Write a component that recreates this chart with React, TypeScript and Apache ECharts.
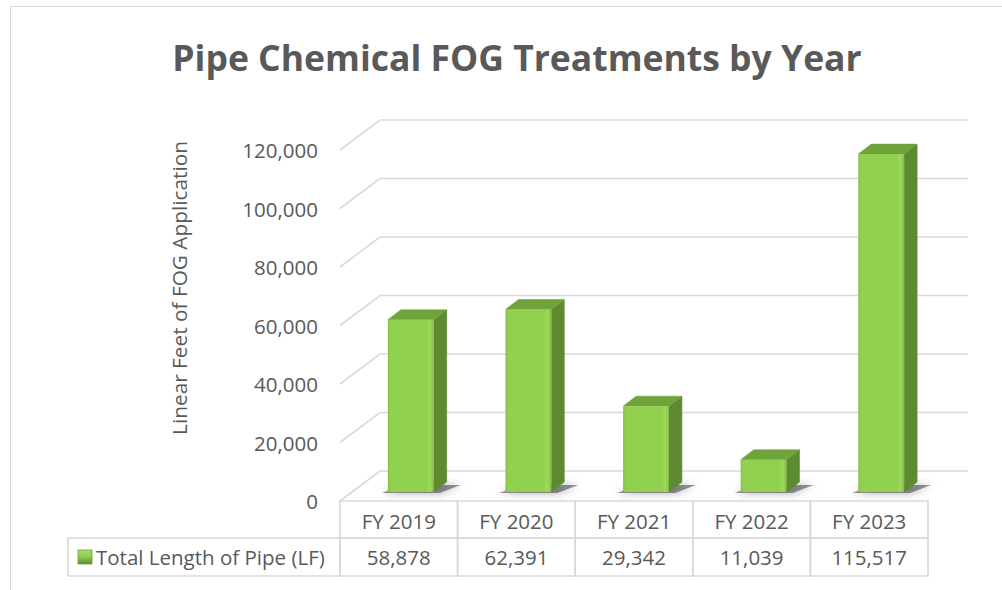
import React, { useEffect, useRef } from "react";
import * as echarts from "echarts";

const chartTitle = "Pipe Chemical FOG Treatments by Year";
const yAxisTitle = "Linear Feet of FOG Application";
const seriesName = "Total Length of Pipe (LF)";
const categories = ["FY 2019", "FY 2020", "FY 2021", "FY 2022", "FY 2023"];
const values = [58878, 62391, 29342, 11039, 115517];
const yTicks = [0, 20000, 40000, 60000, 80000, 100000, 120000];

const FONT = "'Open Sans', 'Noto Sans', sans-serif";
const TEXT = "#595959";
const GRID = "#D9D9D9";
const DEPTH_X = 40;
const DEPTH_Y = 30;
const FS = 20.5;

const fmt = (v: number) => v.toLocaleString("en-US");

export default function App() {
  const ref = useRef<HTMLDivElement>(null);

  useEffect(() => {
    if (!ref.current) return;
    const chart = echarts.init(ref.current, undefined, { renderer: "svg" });

    const gridLineItem = (params: any, api: any) => {
      const cs = params.coordSys;
      const y = api.coord([0, api.value(1)])[1];
      const x0 = cs.x;
      const x1 = cs.x + cs.width;
      return {
        type: "polyline",
        shape: {
          points: [
            [x0, y],
            [x0 + DEPTH_X, y - DEPTH_Y],
            [x1 + DEPTH_X, y - DEPTH_Y],
          ],
        },
        style: { stroke: GRID, lineWidth: 1.6, fill: "none" },
        silent: true,
      };
    };

    const barItem = (params: any, api: any) => {
      const idx = api.value(0);
      const val = api.value(1);
      const top = api.coord([idx, val]);
      const base = api.coord([idx, 0]);
      const band = api.size([1, 0])[0];
      const w = band * 0.39;
      const ox = DEPTH_X * 0.3;
      const oy = DEPTH_Y * 0.3;
      const dx = 13;
      const dy = 10;
      const cx = top[0] + ox;
      const L = cx - w / 2;
      const R = cx + w / 2;
      const B = base[1] - oy;
      const T = top[1] - oy;
      return {
        type: "group",
        children: [
          {
            type: "polygon",
            shape: {
              points: [
                [L - 6, B + 1],
                [R + 6, B + 1],
                [R + dx + 14, B - dy + 3],
                [L + dx + 2, B - dy + 3],
              ],
            },
            style: {
              fill: "rgba(60,60,60,0.55)",
              shadowBlur: 8,
              shadowColor: "rgba(0,0,0,0.6)",
            },
            silent: true,
          },
          {
            type: "polygon",
            shape: {
              points: [
                [R, B],
                [R + dx, B - dy],
                [R + dx, T - dy],
                [R, T],
              ],
            },
            style: { fill: "#5E8B31", stroke: "#5A8630", lineWidth: 0.5 },
          },
          {
            type: "polygon",
            shape: {
              points: [
                [L, T],
                [L + dx, T - dy],
                [R + dx, T - dy],
                [R, T],
              ],
            },
            style: { fill: "#6FA43B", stroke: "#6A9E38", lineWidth: 0.5 },
          },
          {
            type: "rect",
            shape: { x: L, y: T, width: w, height: B - T, r: 1.5 },
            style: {
              fill: new echarts.graphic.LinearGradient(0, 0, 1, 0, [
                { offset: 0, color: "#86C245" },
                { offset: 0.06, color: "#92D050" },
                { offset: 0.84, color: "#92D050" },
                { offset: 0.92, color: "#9CDA58" },
                { offset: 1, color: "#84BE45" },
              ]),
            },
          },
        ],
      };
    };

    const tableItem = (params: any, api: any) => {
      const cs = params.coordSys;
      const idx = api.value(0);
      const base = api.coord([idx, 0]);
      const band = api.size([1, 0])[0];
      const x0 = base[0] - band / 2;
      const y0 = base[1];
      const rowH1 = 37;
      const rowH2 = 38;
      const children: any[] = [
        {
          type: "rect",
          shape: { x: x0, y: y0, width: band, height: rowH1 },
          style: { fill: "none", stroke: GRID, lineWidth: 1.6 },
        },
        {
          type: "rect",
          shape: { x: x0, y: y0 + rowH1, width: band, height: rowH2 },
          style: { fill: "none", stroke: GRID, lineWidth: 1.6 },
        },
        {
          type: "text",
          x: base[0],
          y: y0 + rowH1 / 2 + 1,
          style: {
            text: categories[idx],
            textAlign: "center",
            textVerticalAlign: "middle",
            fontSize: FS,
            fontFamily: FONT,
            fill: TEXT,
          },
        },
        {
          type: "text",
          x: base[0],
          y: y0 + rowH1 + rowH2 / 2,
          style: {
            text: fmt(api.value(1)),
            textAlign: "center",
            textVerticalAlign: "middle",
            fontSize: FS,
            fontFamily: FONT,
            fill: TEXT,
          },
        },
      ];
      if (idx === 0) {
        const lx = cs.x - 272;
        children.push(
          {
            type: "rect",
            shape: { x: lx, y: y0 + rowH1, width: 272, height: rowH2 },
            style: { fill: "none", stroke: GRID, lineWidth: 1.6 },
          },
          {
            type: "rect",
            shape: { x: lx + 10, y: y0 + rowH1 + 12, width: 14, height: 14 },
            style: {
              fill: new echarts.graphic.LinearGradient(0, 0, 0, 1, [
                { offset: 0, color: "#A8DC6C" },
                { offset: 0.5, color: "#8FCB4C" },
                { offset: 1, color: "#5E8B31" },
              ]),
              stroke: "#6A9E38",
              lineWidth: 0.8,
            },
          },
          {
            type: "text",
            x: lx + 28,
            y: y0 + rowH1 + rowH2 / 2,
            style: {
              text: seriesName,
              textAlign: "left",
              textVerticalAlign: "middle",
              fontSize: FS,
              fontFamily: FONT,
              fill: TEXT,
            },
          }
        );
      }
      return { type: "group", children };
    };

    chart.setOption({
      animation: false,
      backgroundColor: "#ffffff",
      title: {
        text: chartTitle,
        left: 512,
        top: 52,
        textAlign: "center",
        textVerticalAlign: "middle",
        textStyle: {
          fontSize: 35.5,
          fontWeight: "bold",
          color: TEXT,
          fontFamily: FONT,
        },
      },
      graphic: [
        {
          type: "rect",
          shape: { x: 10.5, y: 6.5, width: 1100, height: 700 },
          style: { fill: "none", stroke: GRID, lineWidth: 1.2 },
          silent: true,
          z: -1,
        },
        {
          type: "text",
          x: 179,
          y: 288,
          rotation: Math.PI / 2,
          style: {
            text: yAxisTitle,
            textAlign: "center",
            textVerticalAlign: "middle",
            fontSize: 20.8,
            fontFamily: FONT,
            fill: TEXT,
          },
        },
      ],
      grid: { left: 340, top: 150, width: 588, height: 351, containLabel: false },
      xAxis: {
        type: "category",
        data: categories,
        boundaryGap: true,
        axisLine: { show: false },
        axisTick: { show: false },
        axisLabel: { show: false },
        splitLine: { show: false },
      },
      yAxis: {
        type: "value",
        min: 0,
        max: 120000,
        interval: 20000,
        axisLine: { show: false },
        axisTick: { show: false },
        splitLine: { show: false },
        axisLabel: {
          margin: 22,
          fontSize: FS,
          fontFamily: FONT,
          color: TEXT,
          formatter: (v: number) => fmt(v),
        },
      },
      series: [
        {
          type: "custom",
          name: "gridlines",
          renderItem: gridLineItem,
          data: yTicks.map((t) => [0, t]),
          clip: false,
          silent: true,
          z: 1,
        },
        {
          type: "custom",
          name: seriesName,
          renderItem: barItem,
          data: values.map((v, i) => [i, v]),
          clip: false,
          z: 3,
        },
        {
          type: "custom",
          name: "table",
          renderItem: tableItem,
          data: values.map((v, i) => [i, v]),
          clip: false,
          silent: true,
          z: 4,
        },
      ],
    });

    return () => chart.dispose();
  }, []);

  return (
    <div
      ref={ref}
      style={{ position: "fixed", left: 0, top: 0, width: 1002, height: 590 }}
    />
  );
}
